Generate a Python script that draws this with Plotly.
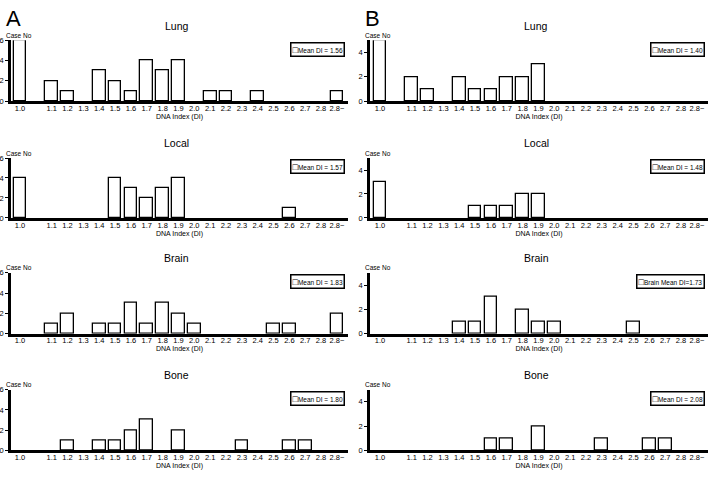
import plotly.graph_objects as go

categories = ["1.0", "1.1", "1.2", "1.3", "1.4", "1.5", "1.6", "1.7", "1.8", "1.9", "2.0",
              "2.1", "2.2", "2.3", "2.4", "2.5", "2.6", "2.7", "2.8", "2.8~"]

# Panel A (column 1)
a_lung  = [6, 2, 1, 0, 3, 2, 1, 4, 3, 4, 0, 1, 1, 0, 1, 0, 0, 0, 0, 1]
a_local = [4, 0, 0, 0, 0, 4, 3, 2, 3, 4, 0, 0, 0, 0, 0, 0, 1, 0, 0, 0]
a_brain = [0, 1, 2, 0, 1, 1, 3, 1, 3, 2, 1, 0, 0, 0, 0, 1, 1, 0, 0, 2]
a_bone  = [0, 0, 1, 0, 1, 1, 2, 3, 0, 2, 0, 0, 0, 1, 0, 0, 1, 1, 0, 0]
# Panel B (column 2)
b_lung  = [5, 2, 1, 0, 2, 1, 1, 2, 2, 3, 0, 0, 0, 0, 0, 0, 0, 0, 0, 0]
b_local = [3, 0, 0, 0, 0, 1, 1, 1, 2, 2, 0, 0, 0, 0, 0, 0, 0, 0, 0, 0]
b_brain = [0, 0, 0, 0, 1, 1, 3, 0, 2, 1, 1, 0, 0, 0, 0, 1, 0, 0, 0, 0]
b_bone  = [0, 0, 0, 0, 0, 0, 1, 1, 0, 2, 0, 0, 0, 1, 0, 0, 1, 1, 0, 0]

row_titles = ["Lung", "Local", "Brain", "Bone"]
a_means = ["Mean DI = 1.56", "Mean DI = 1.57", "Mean DI = 1.83", "Mean DI = 1.80"]
b_means = ["Mean DI = 1.40", "Mean DI = 1.48", "Brain Mean DI=1.73", "Mean DI = 2.08"]

panels = [
    [a_lung, a_local, a_brain, a_bone],
    [b_lung, b_local, b_brain, b_bone],
]
means = [a_means, b_means]
y_max = [6, 5]
y_ticks = [[0, 2, 4, 6], [0, 2, 4]]
panel_letters = ["A", "B"]

W, H = 718, 478
FONT = "Liberation Sans, Arial, sans-serif"

# slot positions: 1.0 separated from 1.1 by an empty slot
slots = [0] + [i + 1 for i in range(1, len(categories))]

col_px = [(11, 348), (370, 708)]
row_px = [(37, 99), (157, 218), (274, 336), (393, 455)]
x_ranges = [[-0.57, 20.7], [-0.63, 20.7]]

fig = go.Figure()
annotations = []
layout = {}
n = 0
for c in range(2):
    for r in range(4):
        n += 1
        xa = "x" if n == 1 else f"x{n}"
        ya = "y" if n == 1 else f"y{n}"
        xkey = "xaxis" if n == 1 else f"xaxis{n}"
        ykey = "yaxis" if n == 1 else f"yaxis{n}"
        vals = panels[c][r]
        xs = [s for s, v in zip(slots, vals) if v > 0]
        ys = [v for v in vals if v > 0]
        fig.add_trace(go.Bar(
            x=xs, y=ys, xaxis=xa, yaxis=ya, width=0.8,
            marker=dict(color="white", line=dict(color="black", width=1.3)),
            showlegend=False, hoverinfo="skip"))
        x0, x1 = col_px[c]
        t, b = row_px[r]
        layout[xkey] = dict(
            domain=[x0 / W, x1 / W], range=x_ranges[c], anchor=ya,
            tickvals=slots, ticktext=categories, showline=True, linecolor="black",
            linewidth=2.5, ticks="", showgrid=False, zeroline=False,
            ticklabelstandoff=-2,
            tickfont=dict(size=7.5, family=FONT, color="black"),
            title=dict(text="DNA Index (DI)", font=dict(size=7, family=FONT, color="black"),
                       standoff=0))
        layout[ykey] = dict(
            domain=[1 - b / H, 1 - t / H], range=[0, y_max[c]], anchor=xa,
            tickvals=y_ticks[c], showline=True, linecolor="black", linewidth=2.5,
            ticks="outside", ticklen=3, tickcolor="black", tickwidth=1,
            showgrid=False, zeroline=False,
            tickfont=dict(size=7.5, family=FONT, color="black"))
        # title
        annotations.append(dict(
            text=row_titles[r], xref="paper", yref="paper",
            x=((x0 + x1) / 2 - 3) / W, y=1 - (t - 15) / H, xanchor="center", yanchor="middle",
            showarrow=False, font=dict(size=10.5, family=FONT, color="black")))
        # Case No
        annotations.append(dict(
            text="Case No", xref="paper", yref="paper",
            x=(x0 - 7) / W, y=1 - (t - 5) / H, xanchor="left", yanchor="middle",
            showarrow=False, font=dict(size=6.5, family=FONT, color="black")))
        # legend box
        annotations.append(dict(
            text="<span style='font-size:9px'>\u25a1</span>" + means[c][r],
            xref="paper", yref="paper",
            x=(x1 - 3) / W, y=1 - (t + 9) / H, xanchor="right", yanchor="middle",
            showarrow=False, font=dict(size=6.5, family=FONT, color="black"),
            bordercolor="black", borderwidth=1.5, borderpad=1, bgcolor="white"))
    annotations.append(dict(
        text=panel_letters[c], xref="paper", yref="paper",
        x=(col_px[c][0] - 7) / W, y=1 - 15 / H, xanchor="left", yanchor="middle",
        showarrow=False, font=dict(size=22, family=FONT, color="black")))

fig.update_layout(
    width=W, height=H, margin=dict(l=0, r=0, t=0, b=0),
    paper_bgcolor="white", plot_bgcolor="white",
    annotations=annotations, bargap=0, **layout)

fig.write_html("out.html")
